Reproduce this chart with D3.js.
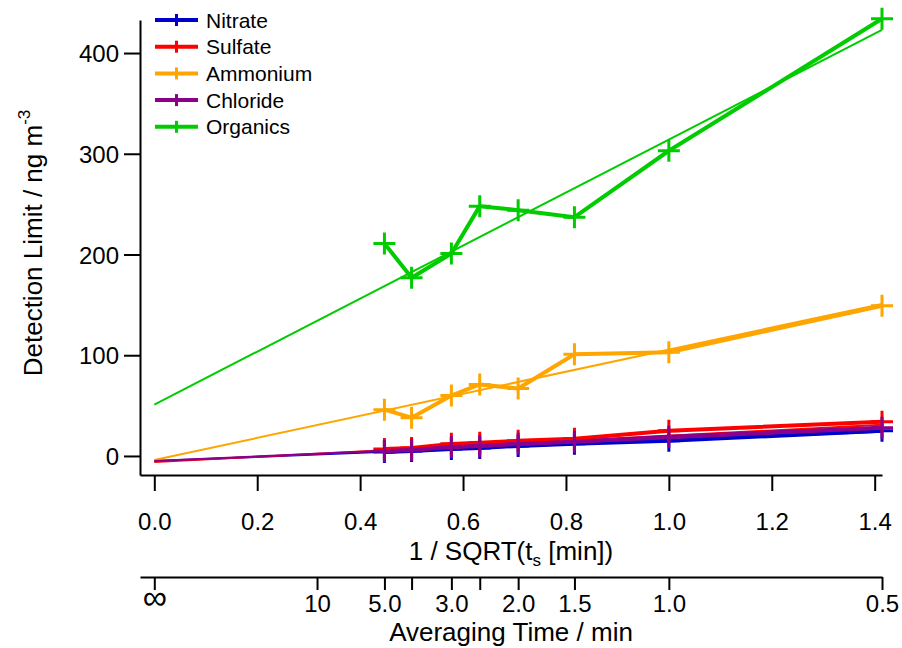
<!DOCTYPE html>
<html>
<head>
<meta charset="utf-8">
<script src="https://cdn.jsdelivr.net/npm/d3@7/dist/d3.min.js"></script>
<style>
  body { margin: 0; background: #fff; }
  svg { font-family: "Liberation Sans", Arial, Helvetica, sans-serif; }
</style>
</head>
<body>
<div id="viz"></div>
<script>
// averaging times (min) of the measured points
const avgTimes = [5, 4, 3, 2.5, 2, 1.5, 1, 0.5]

const species = ['Nitrate', 'Sulfate', 'Ammonium', 'Chloride', 'Organics']
const colors = ['#0000cc', '#ff0000', '#ffa500', '#8b008b', '#00cc00']

// detection limits, ng m-3
const nitrate = [4, 5, 7, 8, 10, 12, 15, 25]
const sulfate = [7, 8, 12, 13, 15, 17, 25, 34]
const ammonium = [46, 38, 60, 71, 67, 101, 103, 149]
const chloride = [5, 6, 9, 10, 12, 14, 19, 28]
const organics = [211, 177, 201, 248, 244, 237, 303, 434]

// linear fits: value at x = 0 and at x = 1/sqrt(0.5)
const fitStart = [-5, -6, -4, -5, 51]
const fitEnd = [24, 31, 151, 27, 423]

const xTicks = [0, 0.2, 0.4, 0.6, 0.8, 1.0, 1.2, 1.4]
const yTicks = [0, 100, 200, 300, 400]
const timeTicks = [Infinity, 10, 5, 4, 3, 2.5, 2, 1.5, 1, 0.5]
const timeLabels = ['∞', '10', '5.0', '', '3.0', '', '2.0', '1.5', '1.0', '0.5']

const series = [nitrate, sulfate, ammonium, chloride, organics]

const width = 902, height = 648
const fs = 24     // tick labels
const tfs = 26    // axis titles

const svg = d3.select('#viz').append('svg')
  .attr('width', width)
  .attr('height', height)

const x = d3.scaleLinear().domain([-0.0278, Math.SQRT2]).range([140, 882])
const y = d3.scaleLinear().domain([-18.9, 432.8]).range([475, 20])

const inv = t => (t === Infinity ? 0 : 1 / Math.sqrt(t))

function styleAxis(g) {
  g.select('.domain').attr('stroke', '#000').attr('stroke-width', 2)
  g.selectAll('.tick line').attr('stroke', '#000').attr('stroke-width', 2)
  g.selectAll('.tick text')
    .attr('fill', '#000')
    .style('font-size', fs + 'px')
    .attr('dy', null)
}

// left axis
svg.append('g')
  .attr('transform', 'translate(140,0)')
  .call(d3.axisLeft(y).tickValues(yTicks).tickSize(16).tickSizeOuter(0).tickPadding(5))
  .call(styleAxis)
  .selectAll('.tick text').attr('y', 8.5)

// bottom axis
svg.append('g')
  .attr('transform', 'translate(0,475)')
  .call(d3.axisBottom(x).tickValues(xTicks).tickSize(16).tickSizeOuter(0).tickFormat(d3.format('.1f')))
  .call(styleAxis)
  .selectAll('.tick text').attr('y', 55)

// averaging time axis
const tAxis = svg.append('g')
  .attr('transform', 'translate(0,577)')
  .call(d3.axisBottom(x).tickValues(timeTicks.map(inv)).tickSize(13).tickSizeOuter(0)
    .tickFormat((d, i) => timeLabels[i]))
  .call(styleAxis)
tAxis.selectAll('.tick text').attr('y', 35)
tAxis.selectAll('.tick text')
  .filter(d => d === 0)
  .style('font-size', '34px')
  .attr('y', 32)

// axis titles
const xt = svg.append('text')
  .attr('x', 511).attr('y', 560)
  .attr('text-anchor', 'middle')
  .style('font-size', tfs + 'px')
xt.append('tspan').text('1 / SQRT(t')
xt.append('tspan').text('s').attr('dy', 6).style('font-size', '17px')
xt.append('tspan').text(' [min])').attr('dy', -6)

svg.append('text')
  .attr('x', 511).attr('y', 641)
  .attr('text-anchor', 'middle')
  .style('font-size', tfs + 'px')
  .text('Averaging Time / min')

const yt = svg.append('text')
  .attr('transform', 'translate(42,243) rotate(-90)')
  .attr('text-anchor', 'middle')
  .style('font-size', tfs + 'px')
yt.append('tspan').text('Detection Limit / ng m')
yt.append('tspan').text('-3').attr('dy', -12).style('font-size', '17px')

// fit lines and data lines
const line = d3.line()
  .x(d => x(d[0]))
  .y(d => y(d[1]))

species.forEach(function(name, i) {
  const pts = avgTimes.map((t, j) => [inv(t), series[i][j]])

  svg.append('path')
    .attr('d', line([[0, fitStart[i]], [Math.SQRT2, fitEnd[i]]]))
    .attr('fill', 'none')
    .attr('stroke', colors[i])
    .attr('stroke-width', 2)

  svg.append('path')
    .attr('d', line(pts))
    .attr('fill', 'none')
    .attr('stroke', colors[i])
    .attr('stroke-width', 4)
    .attr('stroke-linejoin', 'round')

  svg.selectAll('.m' + i)
    .data(pts)
    .enter()
    .append('path')
    .attr('d', d => {
      const cx = x(d[0]), cy = y(d[1])
      return 'M' + (cx - 11) + ',' + cy + 'H' + (cx + 11) + 'M' + cx + ',' + (cy - 11) + 'V' + (cy + 11)
    })
    .attr('stroke', colors[i])
    .attr('stroke-width', 3)
})

// legend
const legend = svg.append('g')
species.forEach(function(name, i) {
  const ly = 20 + i * 26.7
  legend.append('line')
    .attr('x1', 155).attr('x2', 198).attr('y1', ly).attr('y2', ly)
    .attr('stroke', colors[i]).attr('stroke-width', 4)
  legend.append('line')
    .attr('x1', 176.5).attr('x2', 176.5).attr('y1', ly - 6).attr('y2', ly + 6)
    .attr('stroke', colors[i]).attr('stroke-width', 3)
  legend.append('text')
    .attr('x', 206).attr('y', ly + 7.5)
    .style('font-size', '21px')
    .text(name)
})
</script>
</body>
</html>
